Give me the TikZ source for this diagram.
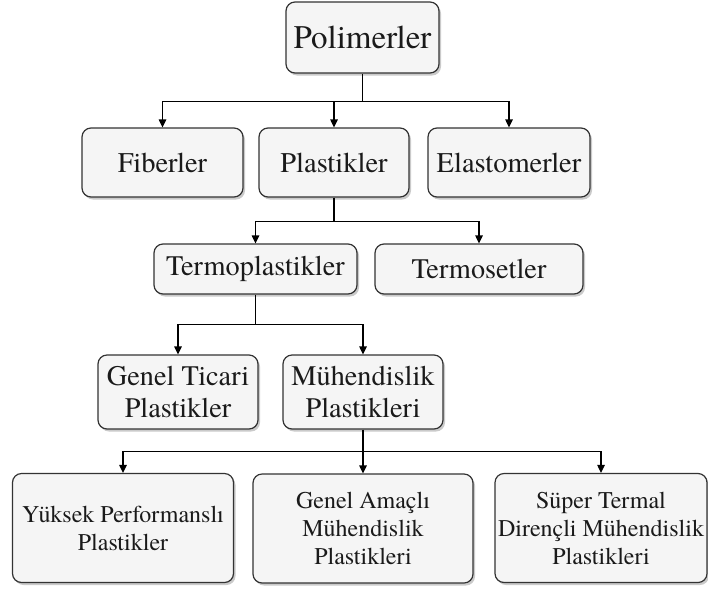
\documentclass[tikz,border=0pt]{standalone}
\usepackage{fontspec}
\setmainfont{texgyretermes}[Extension=.otf, UprightFont=*-regular, BoldFont=*-bold]
\usepackage{tikz}
\usetikzlibrary{arrows.meta}
\usetikzlibrary{shadows}
\definecolor{kutu-fill}{HTML}{F5F5F5}
\definecolor{kutu-line}{HTML}{333333}
\definecolor{kutu-text}{HTML}{1A1A1A}

\begin{document}
\begin{tikzpicture}[x=1pt, y=-1pt, >={Triangle[length=8pt, width=7.5pt]},
    kutu/.style={draw=kutu-line, fill=kutu-fill, line width=1.2pt, rounded corners=9pt,
        text=kutu-text, align=center, inner sep=0pt,
        drop shadow={shadow xshift=2pt, shadow yshift=-2.5pt, opacity=0.35, fill=black!60}},
    baglanti/.style={->, line width=1.2pt, draw=black}]

    \useasboundingbox (0,0) rectangle (708,592);

    % --- KOK: POLIMERLER ---
    \node[kutu, font=\fontsize{33}{38}\selectfont, minimum width=153pt, minimum height=71pt] (pol) at (362.5,37.5) {Polimerler};

    % --- IKINCI SEVIYE ---
    \node[kutu, font=\fontsize{28.5}{32}\selectfont, minimum width=161pt, minimum height=69pt] (fib) at (162.5,162.5) {Fiberler};
    \node[kutu, font=\fontsize{28.5}{32}\selectfont, minimum width=150pt, minimum height=69pt] (pla) at (334,162.5) {Plastikler};
    \node[kutu, font=\fontsize{28.5}{32}\selectfont, minimum width=162pt, minimum height=69pt] (ela) at (509,162.5) {Elastomerler};

    % --- PLASTIK TURLERI ---
    \node[kutu, font=\fontsize{28.3}{32}\selectfont, minimum width=203pt, minimum height=50pt] (tpl) at (255.5,269) {Termoplastikler};
    \node[kutu, font=\fontsize{28.3}{32}\selectfont, minimum width=208pt, minimum height=50pt] (tst) at (479,269) {Termosetler};

    % --- TERMOPLASTIK SINIFLARI ---
    \node[kutu, font=\fontsize{28.3}{31.7}\selectfont, minimum width=160pt, minimum height=74pt] (gtp) at (178,392) {Genel Ticari\\Plastikler};
    \node[kutu, font=\fontsize{28.3}{31.7}\selectfont, minimum width=160pt, minimum height=74pt] (mup) at (363,392) {Mühendislik\\Plastikleri};

    % --- MUHENDISLIK PLASTIKLERI ALT GRUPLARI ---
    \node[kutu, font=\fontsize{24}{28}\selectfont, minimum width=221pt, minimum height=109pt] (yuk) at (123,528) {Yüksek Performanslı\\Plastikler};
    \node[kutu, font=\fontsize{24}{28}\selectfont, minimum width=220pt, minimum height=109pt] (gam) at (363,528.5) {Genel Amaçlı\\Mühendislik\\Plastikleri};
    \node[kutu, font=\fontsize{24}{28}\selectfont, minimum width=212pt, minimum height=109pt] (sup) at (601,528) {Süper Termal\\Dirençli Mühendislik\\Plastikleri};

    % --- BAGLANTILAR ---
    \draw[line width=1.2pt] (pol.south) -- ++(0,28) coordinate (j1);
    \draw[baglanti] (j1) -| (fib.north);
    \draw[baglanti] (j1) -| (ela.north);
    \draw[baglanti] (j1 -| pla.north) -- (pla.north);

    \draw[line width=1.2pt] (pla.south) -- ++(0,24) coordinate (j2);
    \draw[baglanti] (j2) -| (tpl.north);
    \draw[baglanti] (j2) -| (tst.north);

    \draw[line width=1.2pt] (tpl.south) -- ++(0,30) coordinate (j3);
    \draw[baglanti] (j3) -| (gtp.north);
    \draw[baglanti] (j3) -| (mup.north);

    \draw[line width=1.2pt] (mup.south) -- ++(0,22) coordinate (j4);
    \draw[baglanti] (j4) -| (yuk.north);
    \draw[baglanti] (j4) -- (gam.north);
    \draw[baglanti] (j4) -| (sup.north);

\end{tikzpicture}
\end{document}
